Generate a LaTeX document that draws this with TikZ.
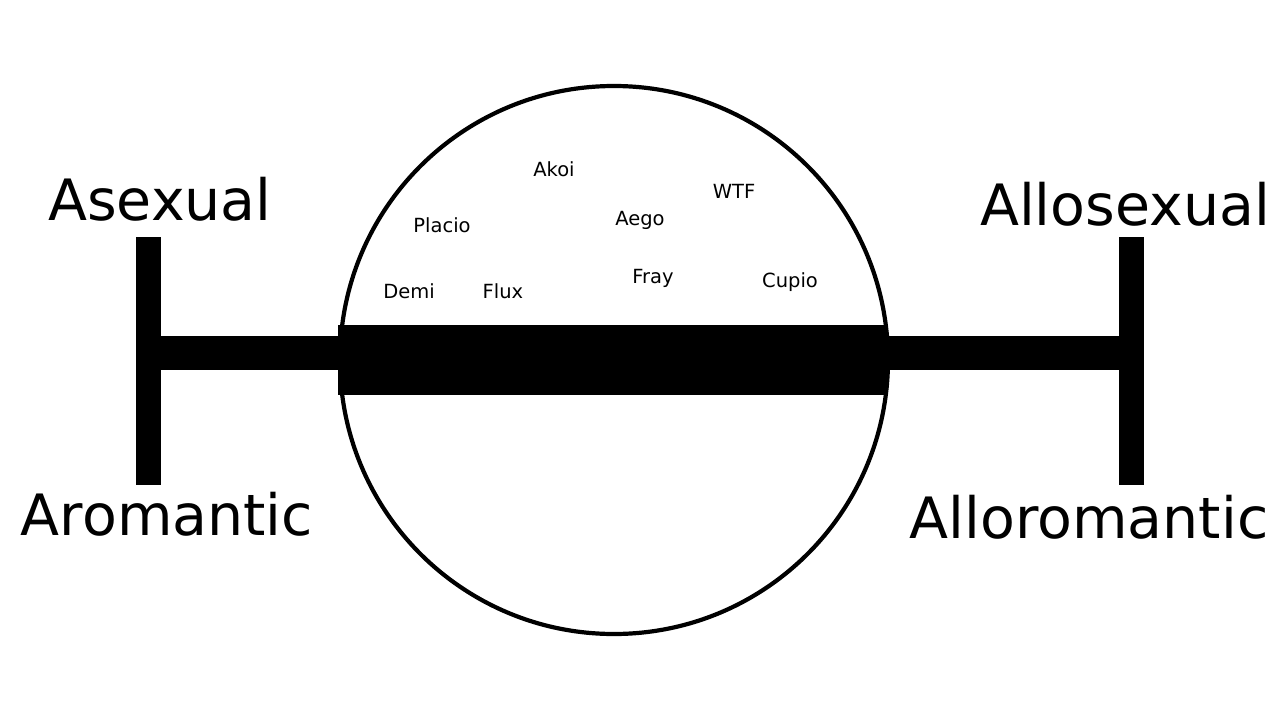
\documentclass[tikz,border=0pt]{standalone}
\usepackage{fontspec}
\setmainfont{DejaVu Sans}
\begin{document}
\begin{tikzpicture}[x=1pt,y=-1pt,
  big/.style={font=\fontsize{57}{60}\selectfont, anchor=base, inner sep=0pt},
  small/.style={font=\fontsize{19.5}{22}\selectfont, anchor=base, inner sep=0pt},
  bar/.style={fill=black, draw=none}]
\useasboundingbox[fill=white] (0,0) rectangle (1280,720);
% bars
\fill[bar] (136,237) rectangle (161,485);
\fill[bar] (1119,237) rectangle (1144,485);
\fill[bar] (158,336) rectangle (345,370);
\fill[bar] (880,336) rectangle (1122,370);
\fill[bar] (338,325) rectangle (887,395);
% circle
\node[circle, draw=black, line width=4.2pt, minimum size=548pt, inner sep=0pt] (c) at (614,360) {};
% big labels
\node[big] (asex) at (160,220) {Asexual};
\node[big] (allosex) at (1125,225) {Allosexual};
\node[big] (aro) at (167,535) {Aromantic};
\node[big] (allorom) at (1089,538) {Alloromantic};
% small labels
\node[small] (akoi) at (554,176) {Akoi};
\node[small] (wtf) at (734,198) {WTF};
\node[small] (placio) at (442,232) {Placio};
\node[small] (aego) at (640,225) {Aego};
\node[small] (demi) at (409,298) {Demi};
\node[small] (flux) at (503,298) {Flux};
\node[small] (fray) at (653,283) {Fray};
\node[small] (cupio) at (790,287) {Cupio};
\end{tikzpicture}
\end{document}
